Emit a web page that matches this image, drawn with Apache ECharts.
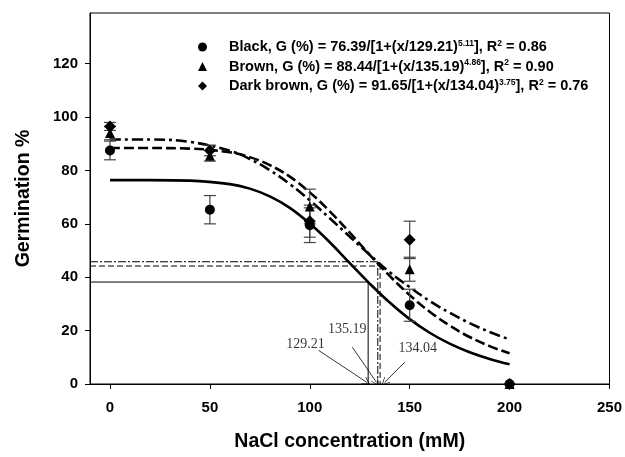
<!DOCTYPE html>
<html>
<head>
<meta charset="utf-8">
<script src="https://cdn.jsdelivr.net/npm/echarts@6/dist/echarts.min.js"></script>
<style>
  html, body { margin: 0; padding: 0; background: #fff; }
  #chart { width: 625px; height: 457px; }
</style>
</head>
<body>
<div id="chart"></div>
<script>
// measured germination (%) and error bars
const concentrations = [0, 50, 100, 150, 200]
const blackMean = [87.5, 65.3, 59.5, 29.5, 0]
const blackErr = [3.5, 5.3, 6.5, 6, 0]
const brownMean = [94, 85.5, 66.5, 43, 0]
const brownErr = [2.5, 2, 6.5, 4.5, 0]
const darkMean = [96.5, 87.5, 61, 54, 0]
const darkErr = [1.5, 2, 6, 7, 0]

// fitted curves
const curveX = [0, 20, 40, 60, 70, 80, 90, 100, 110, 120, 130, 140, 150, 160, 170, 180, 190, 200]
const blackCurve = [76.4, 76.4, 76.2, 74.9, 73.2, 70.3, 66.0, 60.1, 53.1, 45.3, 37.6, 30.5, 24.3, 19.2, 15.1, 11.9, 9.4, 7.4]
const brownCurve = [88.4, 88.4, 88.2, 86.8, 85.0, 82.0, 77.7, 71.8, 64.7, 56.7, 48.4, 40.5, 33.3, 27.1, 21.9, 17.6, 14.2, 11.5]
const darkCurve = [91.6, 91.6, 90.7, 87.4, 84.3, 80.1, 74.9, 68.8, 62.1, 55.2, 48.4, 41.9, 36.3, 31.1, 26.7, 22.8, 19.5, 16.7]

// legend equation parts
const seriesNames = ['Black', 'Brown', 'Dark brown']
const asymptotes = ['76.39', '88.44', '91.65']
const ec50 = ['129.21', '135.19', '134.04']
const slopes = ['5.11', '4.86', '3.75']
const rSquared = ['0.86', '0.90', '0.76']

// half-maximum guide lines (x at 50 %, y level)
const halfX = [129.21, 135.19, 134.04]
const halfY = [38.2, 44.2, 45.8]

// annotation labels and arrows
const noteLabelPos = [[97.9, 14.9], [118.8, 20.4], [154, 13.4]]
const arrowFrom = [[104.4, 12.6], [121.3, 13.8], [147.6, 8.2]]
const arrowTo = [[128.6, 0.6], [133.4, 0.6], [137.4, 0.6]]

const xTicks = [0, 50, 100, 150, 200, 250]
const yTicks = [0, 20, 40, 60, 80, 100, 120]

const FONT = 'Liberation Sans, Arial, sans-serif'
const SERIF = 'Liberation Serif, Times New Roman, serif'

const symbols = ['circle', 'triangle', 'diamond']
const symbolSizes = [10, 10, 12]
const means = [blackMean, brownMean, darkMean]
const errs = [blackErr, brownErr, darkErr]
const curves = [blackCurve, brownCurve, darkCurve]
const curveDash = ['solid', [10, 4], [11, 4, 3, 4]]
const guideDash = ['solid', [6, 3], [8, 2, 2, 2]]

const chevron = 'path://M0,0 L5,12 L4.2,12 L0,2.2 L-4.2,12 L-5,12 Z'

const errorSeries = (i) => ({
  type: 'custom',
  name: seriesNames[i] + ' err',
  silent: true,
  z: 3,
  data: concentrations
    .map((x, k) => [x, means[i][k] - errs[i][k], means[i][k] + errs[i][k]])
    .filter(d => d[2] > d[1]),
  renderItem: (params, api) => {
    const lo = api.coord([api.value(0), api.value(1)])
    const hi = api.coord([api.value(0), api.value(2)])
    const w = 6
    const style = { stroke: '#444', lineWidth: 1.2 }
    return {
      type: 'group',
      children: [
        { type: 'line', shape: { x1: lo[0], y1: lo[1], x2: hi[0], y2: hi[1] }, style },
        { type: 'line', shape: { x1: lo[0] - w, y1: lo[1], x2: lo[0] + w, y2: lo[1] }, style },
        { type: 'line', shape: { x1: hi[0] - w, y1: hi[1], x2: hi[0] + w, y2: hi[1] }, style }
      ]
    }
  }
})

const series = []

seriesNames.forEach((name, i) => {
  series.push({
    name: name + ' fit',
    type: 'line',
    data: curveX.map((x, k) => [x, curves[i][k]]),
    smooth: 0.4,
    showSymbol: false,
    silent: true,
    z: 2,
    lineStyle: { color: '#000', width: 2.6, type: curveDash[i] }
  })
  series.push({
    name: name + ' half',
    type: 'line',
    data: [[-10, halfY[i]], [halfX[i], halfY[i]], [halfX[i], 0]],
    showSymbol: false,
    silent: true,
    z: 1,
    lineStyle: { color: '#000', width: 1, type: guideDash[i] }
  })
  series.push(errorSeries(i))
  series.push({
    name: name,
    type: 'scatter',
    symbol: symbols[i],
    symbolSize: symbolSizes[i],
    itemStyle: { color: '#000', opacity: 1 },
    z: 4,
    data: concentrations.map((x, k) => [x, means[i][k]])
  })
})

series.push({
  name: 'arrows',
  type: 'lines',
  coordinateSystem: 'cartesian2d',
  silent: true,
  symbol: ['none', chevron],
  symbolSize: 8,
  lineStyle: { color: '#000', width: 0.8, opacity: 1 },
  data: arrowFrom.map((p, i) => ({ coords: [p, arrowTo[i]] }))
})

series.push({
  name: 'notes',
  type: 'scatter',
  symbolSize: 0,
  silent: true,
  data: noteLabelPos.map((p, i) => ({ value: p, label: { formatter: ec50[i] } })),
  label: {
    show: true,
    position: 'inside',
    color: '#000',
    fontFamily: SERIF,
    fontSize: 14
  }
})

const legendText = (name) => {
  const i = seriesNames.indexOf(name)
  return `{g|}{t|${name}, G (%) = ${asymptotes[i]}/[1+(x/${ec50[i]})}{s|${slopes[i]}}{t|], R}{s|2}{t| = ${rSquared[i]}}`
}

const option = {
  animation: false,
  backgroundColor: '#fff',
  grid: {
    left: 90,
    right: 11,
    top: 13,
    bottom: 70,
    show: true,
    borderColor: '#000',
    borderWidth: 1
  },
  legend: {
    data: seriesNames.map((n, i) => ({ name: n, icon: symbols[i] })),
    orient: 'vertical',
    left: 193,
    top: 34,
    itemWidth: 9,
    itemHeight: 9,
    itemGap: 4,
    selectedMode: false,
    formatter: legendText,
    textStyle: {
      color: '#000',
      rich: {
        g: { width: 17 },
        t: { fontFamily: FONT, fontWeight: 'bold', fontSize: 14.5, color: '#000', lineHeight: 16 },
        s: { fontFamily: FONT, fontWeight: 'bold', fontSize: 8.5, color: '#000', lineHeight: 16, verticalAlign: 'top' }
      }
    }
  },
  xAxis: {
    type: 'value',
    min: -10,
    max: 250,
    name: 'NaCl concentration (mM)',
    nameLocation: 'middle',
    nameGap: 48,
    nameTextStyle: { fontFamily: FONT, fontWeight: 'bold', fontSize: 19.5, color: '#000' },
    axisLine: { onZero: false, lineStyle: { color: '#000', width: 1 } },
    axisTick: { show: true, length: 5, customValues: xTicks, lineStyle: { color: '#000' } },
    axisLabel: {
      customValues: xTicks,
      margin: 16,
      fontFamily: FONT,
      fontWeight: 'bold',
      fontSize: 15,
      color: '#000'
    },
    splitLine: { show: false }
  },
  yAxis: {
    type: 'value',
    min: 0,
    max: 139,
    name: 'Germination %',
    nameLocation: 'middle',
    nameGap: 56,
    nameTextStyle: { fontFamily: FONT, fontWeight: 'bold', fontSize: 19.5, color: '#000' },
    axisLine: { onZero: false, lineStyle: { color: '#000', width: 1 } },
    axisTick: { show: true, length: 5, customValues: yTicks, lineStyle: { color: '#000' } },
    axisLabel: {
      customValues: yTicks,
      margin: 12,
      fontFamily: FONT,
      fontWeight: 'bold',
      fontSize: 15,
      color: '#000'
    },
    splitLine: { show: false }
  },
  series: series
}

const chart = echarts.init(document.getElementById('chart'))
chart.setOption(option)
</script>
</body>
</html>
